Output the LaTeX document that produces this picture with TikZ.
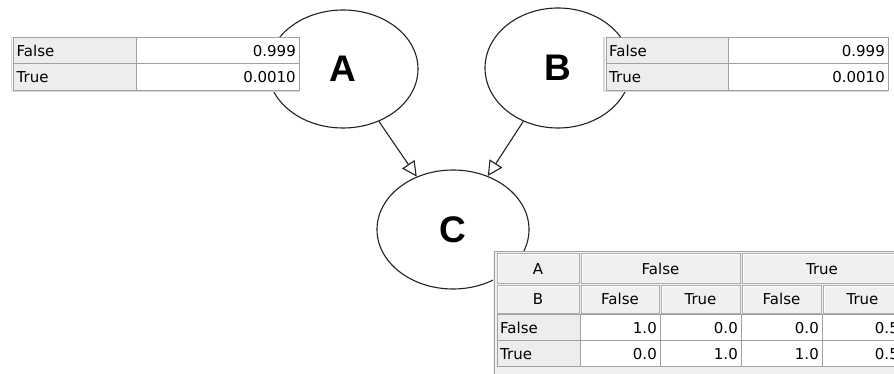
\documentclass[tikz,border=0pt]{standalone}
\usepackage{fontspec}
\setmainfont{DejaVu Sans}
\newfontfamily\letterfont{Liberation Sans}
\usetikzlibrary{shapes.geometric,arrows.meta}
\definecolor{cellgray}{HTML}{EDEDED}
\definecolor{gridline}{HTML}{A0A0A0}
\definecolor{panel}{HTML}{F0F0F0}
\definecolor{btnedge}{HTML}{ADADAD}
\definecolor{shadowgray}{HTML}{D8D8D8}
\definecolor{inkline}{HTML}{222222}
\newcommand\labcell[6]{%
  \filldraw[fill=cellgray,draw=gridline] (#1,#2) rectangle (#3,#4);
  \node[txt,anchor=base west] (#5) at (#1+3,#4-7) {#6};}
\newcommand\valcell[6]{%
  \filldraw[fill=white,draw=gridline] (#1,#2) rectangle (#3,#4);
  \node[txt,anchor=base east] (#5) at (#3-3,#4-7) {#6};}
\newcommand\btncell[6]{%
  \filldraw[fill=panel,draw=btnedge] (#1,#2) rectangle (#3,#4);
  \draw[white] (#1+1,#4-1) -- (#1+1,#2+1) -- (#3-1,#2+1);
  \node[txt,anchor=base] (#5) at ({(#1+#3)/2},#4-8.5) {#6};}
\begin{document}
\begin{tikzpicture}[x=1pt,y=-1pt,
  bnode/.style={ellipse, draw=inkline, line width=1.1pt, fill=white, inner sep=0pt,
    font=\letterfont\bfseries\fontsize{37}{37}\selectfont},
  edgeline/.style={draw=inkline, line width=1.1pt, -{Triangle[open,length=15pt,width=15pt]}},
  txt/.style={inner sep=0pt, font=\fontsize{15}{15}\selectfont, text=black}]
\useasboundingbox (0,0) rectangle (894,374);
\clip (0,0) rectangle (894,374);
% nodes
\node[bnode, minimum width=150pt, minimum height=118pt] (A) at (343,69) {A};
\node[bnode, minimum width=146pt, minimum height=120pt] (B) at (558,68) {B};
\node[bnode, minimum width=152pt, minimum height=119pt] (C) at (453,229.5) {C};
\draw[edgeline] (A) -- (C);
\draw[edgeline] (B) -- (C);
% table A
\draw[shadowgray, line width=1.5pt] (11.5,37) -- (11.5,91.5) -- (299,91.5);
\labcell{13.5}{37.5}{136}{63.5}{taFl}{False}
\valcell{136}{37.5}{299}{63.5}{taFv}{0.999}
\labcell{13.5}{63.5}{136}{90}{taTl}{True}
\valcell{136}{63.5}{299}{90}{taTv}{0.0010}
% table B
\draw[shadowgray, line width=1.5pt] (604,37) -- (604,91.5) -- (888,91.5);
\labcell{606}{37.5}{728}{63.5}{tbFl}{False}
\valcell{728}{37.5}{888}{63.5}{tbFv}{0.999}
\labcell{606}{63.5}{728}{90}{tbTl}{True}
\valcell{728}{63.5}{888}{90}{tbTv}{0.0010}
% table C
\fill[panel] (493,251) rectangle (905,380);
\draw[gridline] (494,380) -- (494,251.5) -- (905,251.5);
\btncell{497}{253}{579}{283}{hA}{A}
\btncell{581}{253}{740}{283}{hAF}{False}
\btncell{742}{253}{902}{283}{hAT}{True}
\btncell{497}{285}{579}{313}{hB}{B}
\btncell{581}{285}{659}{313}{hBFa}{False}
\btncell{661}{285}{740}{313}{hBTa}{True}
\btncell{742}{285}{821}{313}{hBFb}{False}
\btncell{823}{285}{902}{313}{hBTb}{True}
\labcell{497}{314}{580}{340}{cFl}{False}
\valcell{580}{314}{660}{340}{cFa}{1.0}
\valcell{660}{314}{741}{340}{cFb}{0.0}
\valcell{741}{314}{822}{340}{cFc}{0.0}
\valcell{822}{314}{902}{340}{cFd}{0.5}
\labcell{497}{340}{580}{366}{cTl}{True}
\valcell{580}{340}{660}{366}{cTa}{0.0}
\valcell{660}{340}{741}{366}{cTb}{1.0}
\valcell{741}{340}{822}{366}{cTc}{1.0}
\valcell{822}{340}{902}{366}{cTd}{0.5}
\end{tikzpicture}
\end{document}
